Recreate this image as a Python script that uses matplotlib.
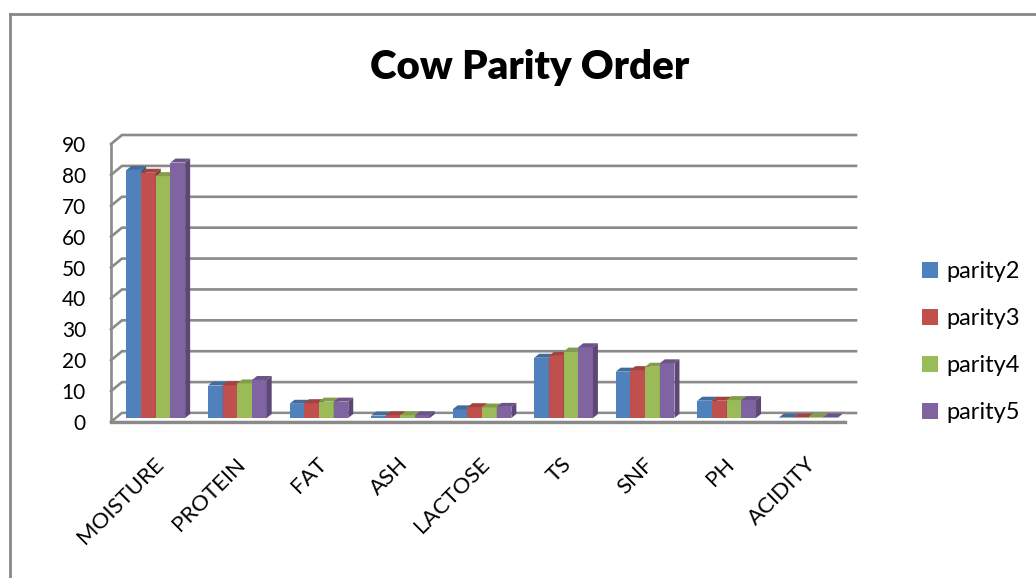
import matplotlib.pyplot as plt
from matplotlib.patches import Polygon
from matplotlib.lines import Line2D
import numpy as np

plt.rcParams['font.family'] = ['Lato', 'DejaVu Sans']

# data
components = ['MOISTURE', 'PROTEIN', 'FAT', 'ASH', 'LACTOSE', 'TS', 'SNF', 'PH', 'ACIDITY']
parity2 = [80.3, 10.5, 4.6, 0.8, 2.8, 19.5, 15.0, 5.6, 0.15]
parity3 = [79.4, 10.6, 4.8, 0.9, 3.5, 20.1, 15.5, 5.6, 0.15]
parity4 = [78.3, 11.2, 5.3, 0.9, 3.4, 21.5, 16.6, 5.8, 0.15]
parity5 = [82.7, 12.3, 5.3, 0.9, 3.6, 22.9, 17.7, 5.8, 0.15]
series = [('parity2', parity2), ('parity3', parity3), ('parity4', parity4), ('parity5', parity5)]

front = ['#4F81BD', '#C0504D', '#9BBB59', '#8064A2']
side = ['#385D8A', '#8C3836', '#71893F', '#5C4776']
top = ['#426C9E', '#A24341', '#839E4A', '#6B5488']

W, H = 1036, 578
fig = plt.figure(figsize=(W / 100, H / 100), dpi=100)

# axes = front plane of the floor
x0, x1, yb, yt = 111, 845, 422, 144
ax = fig.add_axes([x0 / W, 1 - yb / H, (x1 - x0) / W, (yb - yt) / H])
xmin, xmax, ymin, ymax = -0.5, len(components) - 0.5, 0, 90
ax.set_xlim(xmin, xmax)
ax.set_ylim(ymin, ymax)
pxx = (x1 - x0) / (xmax - xmin)   # pixels per x unit
pxy = (yb - yt) / (ymax - ymin)   # pixels per y unit


def off(dx, dy):
    return dx / pxx, dy / pxy


# back wall / floor offsets (pixels)
bx, by = off(11, 9)
gcol = '#8a8a8a'

# floor
floor = Polygon([(xmin, 0), (xmax, 0), (xmax + bx, by), (xmin + bx, by)],
                closed=True, facecolor='white', edgecolor=gcol, lw=1.6, zorder=1)
ax.add_patch(floor)
ax.plot([xmin, xmax], [0, 0], color=gcol, lw=2.4, zorder=1.1, clip_on=False)

# gridlines on the back wall
for v in range(0, 91, 10):
    ax.plot([xmin, xmin + bx, xmax + bx], [v, v + by, v + by], color=gcol, lw=1.9,
            zorder=0.5, clip_on=False, solid_joinstyle='miter')
ax.plot([xmin, xmin], [0, 90], color=gcol, lw=1.9, zorder=0.6, clip_on=False)

# bars
fx, fy = off(4, 4)     # bar front offset from floor front
dx, dy = off(5, 4)     # bar depth
bw = 0.18
xs = np.arange(len(components))
for i, (name, vals) in enumerate(series):
    pos = xs + (i - 1.5) * bw + fx
    bars = ax.bar(pos, vals, width=bw, bottom=fy, color=front[i], label=name,
                  zorder=2 + i * 0.01, linewidth=0)
    for p, v in zip(pos, vals):
        l, r, t = p - bw / 2, p + bw / 2, v + fy
        ax.add_patch(Polygon([(l, t), (r, t), (r + dx, t + dy), (l + dx, t + dy)],
                             facecolor=top[i], lw=0, zorder=2 + i * 0.01, clip_on=False))
        ax.add_patch(Polygon([(r, fy), (r, t), (r + dx, t + dy), (r + dx, fy + dy)],
                             facecolor=side[i], lw=0, zorder=2 + i * 0.01, clip_on=False))

for s in ax.spines.values():
    s.set_visible(False)
ax.set_yticks(range(0, 91, 10))
ax.set_xticks(xs + 0.02)
ax.set_xticklabels(components, rotation=45, ha='right', rotation_mode='anchor')
ax.tick_params(axis='both', length=0, colors='black')
ax.tick_params(axis='y', pad=18, labelsize=15)
ax.tick_params(axis='x', pad=23, labelsize=16)
ax.patch.set_visible(False)

ax.legend(loc='center left', bbox_to_anchor=(913 / W, 1 - 342 / H), bbox_transform=fig.transFigure,
          frameon=False, fontsize=17, handlelength=0.65, handleheight=0.65,
          handletextpad=0.35, labelspacing=1.1, borderaxespad=0)

fig.text(530 / W, 1 - 67 / H, 'Cow Parity Order', ha='center', va='center',
         fontsize=29, fontweight='heavy')

# chart border (top and left edges visible)
fig.add_artist(Line2D([10 / W, 1], [1 - 14 / H, 1 - 14 / H], color='#888888', lw=2.0))
fig.add_artist(Line2D([10 / W, 10 / W], [0, 1 - 14 / H], color='#888888', lw=2.0))

fig.savefig('out.png', dpi=100)
